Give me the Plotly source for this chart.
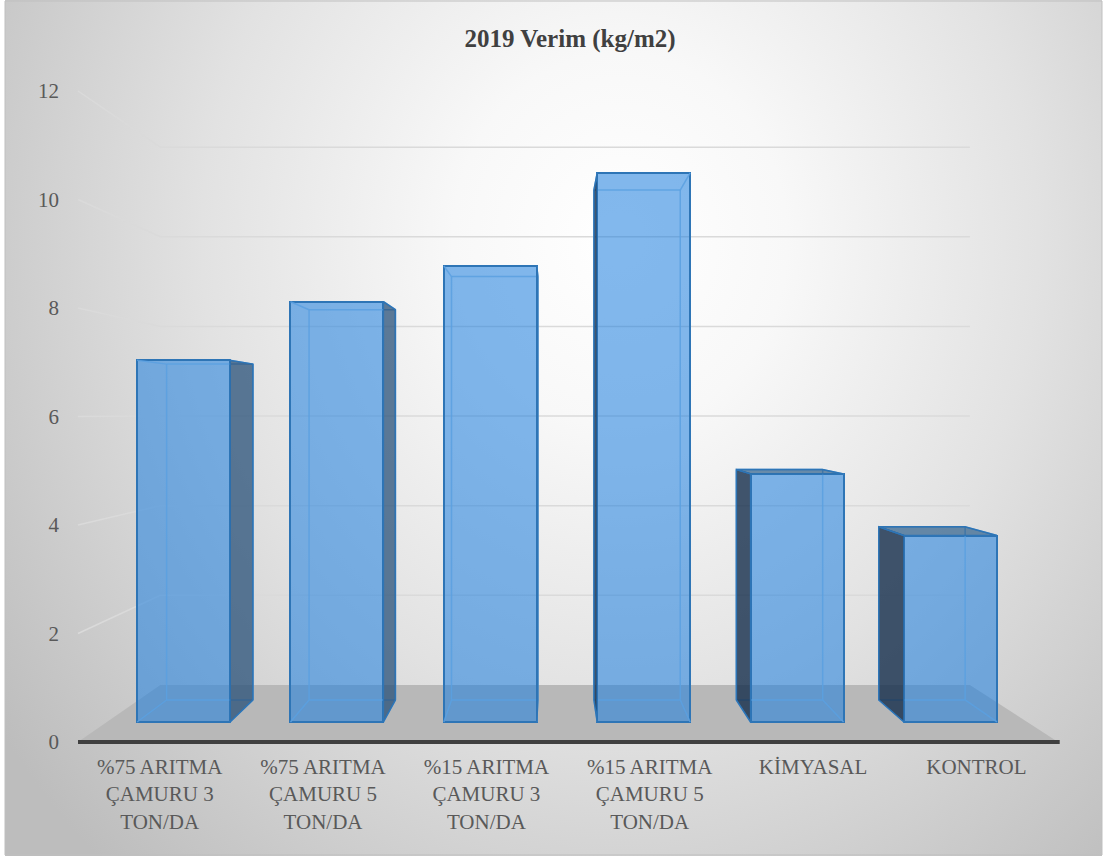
import base64
import plotly.graph_objects as go

# ---------------- data ----------------
categories = ["%75 ARITMA<br>ÇAMURU 3<br>TON/DA", "%75 ARITMA<br>ÇAMURU 5<br>TON/DA",
              "%15 ARITMA<br>ÇAMURU 3<br>TON/DA", "%15 ARITMA<br>ÇAMURU 5<br>TON/DA",
              "KİMYASAL", "KONTROL"]
values = [7.1, 8.25, 8.95, 10.78, 4.87, 3.66]
y_ticks = [0, 2, 4, 6, 8, 10, 12]
title_text = "2019 Verim (kg/m2)"

# ---------------- perspective helpers (Excel-like 3D look) ----------------
XV, YV = 2.3965, 6.05          # vanishing point in front-plane axis units
S_FRONT, S_BACK, S_WALL = 0.939, 0.872, 0.826   # depth scale factors
HW = 0.303                     # half bar width (category units)
N = len(categories)


def P(i, v, s):
    return XV + s * (i - XV), YV + s * (v - YV)


def poly(pts):
    xs = [p[0] for p in pts] + [pts[0][0], None]
    ys = [p[1] for p in pts] + [pts[0][1], None]
    return xs, ys


FONT = "Liberation Serif"
fig = go.Figure()

# ---- front faces as real bars ----
bar_x = [XV + S_FRONT * (i - XV) for i in range(N)]
bar_base = [YV + S_FRONT * (0 - YV)] * N
bar_h = [S_FRONT * v for v in values]
fig.add_trace(go.Bar(x=bar_x, y=bar_h, base=bar_base, width=2 * HW * S_FRONT,
                     marker=dict(color="rgba(27,125,223,0.55)",
                                 line=dict(color="#2e75b6", width=2)),
                     hoverinfo="skip"))

# ---- back edges seen through the transparent boxes ----
bx, by = [], []
for i, v in enumerate(values):
    for a, b in [((i - HW, 0, S_BACK), (i + HW, 0, S_BACK)),
                 ((i + HW, 0, S_BACK), (i + HW, v, S_BACK)),
                 ((i + HW, v, S_BACK), (i - HW, v, S_BACK)),
                 ((i - HW, v, S_BACK), (i - HW, 0, S_BACK)),
                 ((i - HW, 0, S_FRONT), (i - HW, 0, S_BACK)),
                 ((i + HW, 0, S_FRONT), (i + HW, 0, S_BACK)),
                 ((i - HW, v, S_FRONT), (i - HW, v, S_BACK)),
                 ((i + HW, v, S_FRONT), (i + HW, v, S_BACK))]:
        p1, p2 = P(*a), P(*b)
        bx += [p1[0], p2[0], None]
        by += [p1[1], p2[1], None]
fig.add_trace(go.Scatter(x=bx, y=by, mode="lines",
                         line=dict(color="rgba(90,160,225,0.85)", width=1.5),
                         hoverinfo="skip"))

# ---- side and top faces ----
rx, ry, lx, ly, tx, ty = [], [], [], [], [], []
for i, v in enumerate(values):
    if i + HW < XV:
        xs, ys = poly([P(i + HW, 0, S_FRONT), P(i + HW, v, S_FRONT),
                       P(i + HW, v, S_BACK), P(i + HW, 0, S_BACK)])
        rx += xs; ry += ys
    if i - HW > XV:
        xs, ys = poly([P(i - HW, 0, S_FRONT), P(i - HW, v, S_FRONT),
                       P(i - HW, v, S_BACK), P(i - HW, 0, S_BACK)])
        lx += xs; ly += ys
    if v < YV:
        xs, ys = poly([P(i - HW, v, S_FRONT), P(i + HW, v, S_FRONT),
                       P(i + HW, v, S_BACK), P(i - HW, v, S_BACK)])
        tx += xs; ty += ys
fig.add_trace(go.Scatter(x=rx, y=ry, mode="lines", fill="toself",
                         fillcolor="rgba(40,80,120,0.75)",
                         line=dict(color="#2e75b6", width=1.5), hoverinfo="skip"))
fig.add_trace(go.Scatter(x=lx, y=ly, mode="lines", fill="toself",
                         fillcolor="rgba(20,45,75,0.8)",
                         line=dict(color="#2e75b6", width=1.5), hoverinfo="skip"))
fig.add_trace(go.Scatter(x=tx, y=ty, mode="lines", fill="toself",
                         fillcolor="rgba(45,95,140,0.7)",
                         line=dict(color="#2e75b6", width=1.5), hoverinfo="skip"))

# ---------------- walls, floor, axis line (shapes below traces) ----------------
shapes = []
for t in y_ticks[1:]:
    a = P(-0.5, t, 1.0)
    b = P(-0.5, t, S_WALL)
    c = P(N - 0.5, t, S_WALL)
    shapes.append(dict(type="path", xref="x", yref="y", layer="below",
                       path=f"M{a[0]},{a[1]} L{b[0]},{b[1]} L{c[0]},{c[1]}",
                       line=dict(color="#dadada", width=1.5)))
f1, f2, f3, f4 = P(-0.5, 0, 1), P(N - 0.5, 0, 1), P(N - 0.5, 0, S_WALL), P(-0.5, 0, S_WALL)
shapes.append(dict(type="path", xref="x", yref="y", layer="below",
                   path=f"M{f1[0]},{f1[1]} L{f2[0]},{f2[1]} L{f3[0]},{f3[1]} L{f4[0]},{f4[1]} Z",
                   fillcolor="#b8b8b8", line=dict(width=0)))
shapes.append(dict(type="line", xref="x", yref="y", layer="below",
                   x0=f1[0], y0=f1[1], x1=f2[0] + 0.01, y1=f2[1],
                   line=dict(color="#404040", width=4)))

# ---------------- layout geometry ----------------
W, H = 1107, 859
L, R, T, B = 70, 1070, 60, 752
PX_PER_UNIT = 54.25
y_top = 12 + (91 - T) / PX_PER_UNIT
y_bot = -(B - 742) / PX_PER_UNIT
shapes.append(dict(type="rect", xref="paper", yref="paper", layer="below",
                   x0=(5 - L) / (R - L), x1=(1102 - L) / (R - L),
                   y0=1 - (855 - T) / (B - T), y1=1 - (1 - T) / (B - T),
                   line=dict(color="#bfbfbf", width=1)))

svg = ("<svg xmlns='http://www.w3.org/2000/svg' width='1097' height='856' viewBox='0 0 1097 856' "
       "preserveAspectRatio='none'><defs><radialGradient id='g' gradientUnits='userSpaceOnUse' "
       "cx='0' cy='0' r='1' gradientTransform='translate(615 240) scale(760 850)'>"
       "<stop offset='0' stop-color='#ffffff'/><stop offset='0.22' stop-color='#f8f8f8'/>"
       "<stop offset='0.55' stop-color='#e2e2e2'/><stop offset='1' stop-color='#bdbdbd'/>"
       "</radialGradient></defs><rect width='1097' height='856' fill='url(#g)'/></svg>")
src = "data:image/svg+xml;base64," + base64.b64encode(svg.encode()).decode()

fig.update_layout(
    width=W, height=H, autosize=False,
    margin=dict(l=L, r=W - R, t=T, b=H - B),
    paper_bgcolor="white", plot_bgcolor="rgba(0,0,0,0)",
    showlegend=False, hovermode=False, bargap=0,
    title=dict(text=f"<b>{title_text}</b>", x=0.5, xref="paper", xanchor="center",
               y=1 - 38 / H, yref="container", yanchor="middle",
               font=dict(family=FONT, size=25, color="#404040")),
    shapes=shapes,
    images=[dict(source=src, xref="paper", yref="paper", layer="below",
                 x=(5 - L) / (R - L), y=1 + T / (B - T), sizex=1097 / (R - L),
                 sizey=856 / (B - T), xanchor="left", yanchor="top", sizing="stretch")],
    xaxis=dict(range=[-0.549, 5.573], tickmode="array", tickvals=list(range(N)),
               ticktext=categories, showgrid=False, zeroline=False, showline=False,
               ticks="", tickfont=dict(family=FONT, size=21, color="#595959"),
               fixedrange=True),
    yaxis=dict(range=[y_bot, y_top], tickmode="array", tickvals=y_ticks,
               showgrid=False, zeroline=False, showline=False, ticks="",
               ticklabelstandoff=10,
               tickfont=dict(family=FONT, size=21, color="#595959"), fixedrange=True),
)

fig.write_html("out.html")
